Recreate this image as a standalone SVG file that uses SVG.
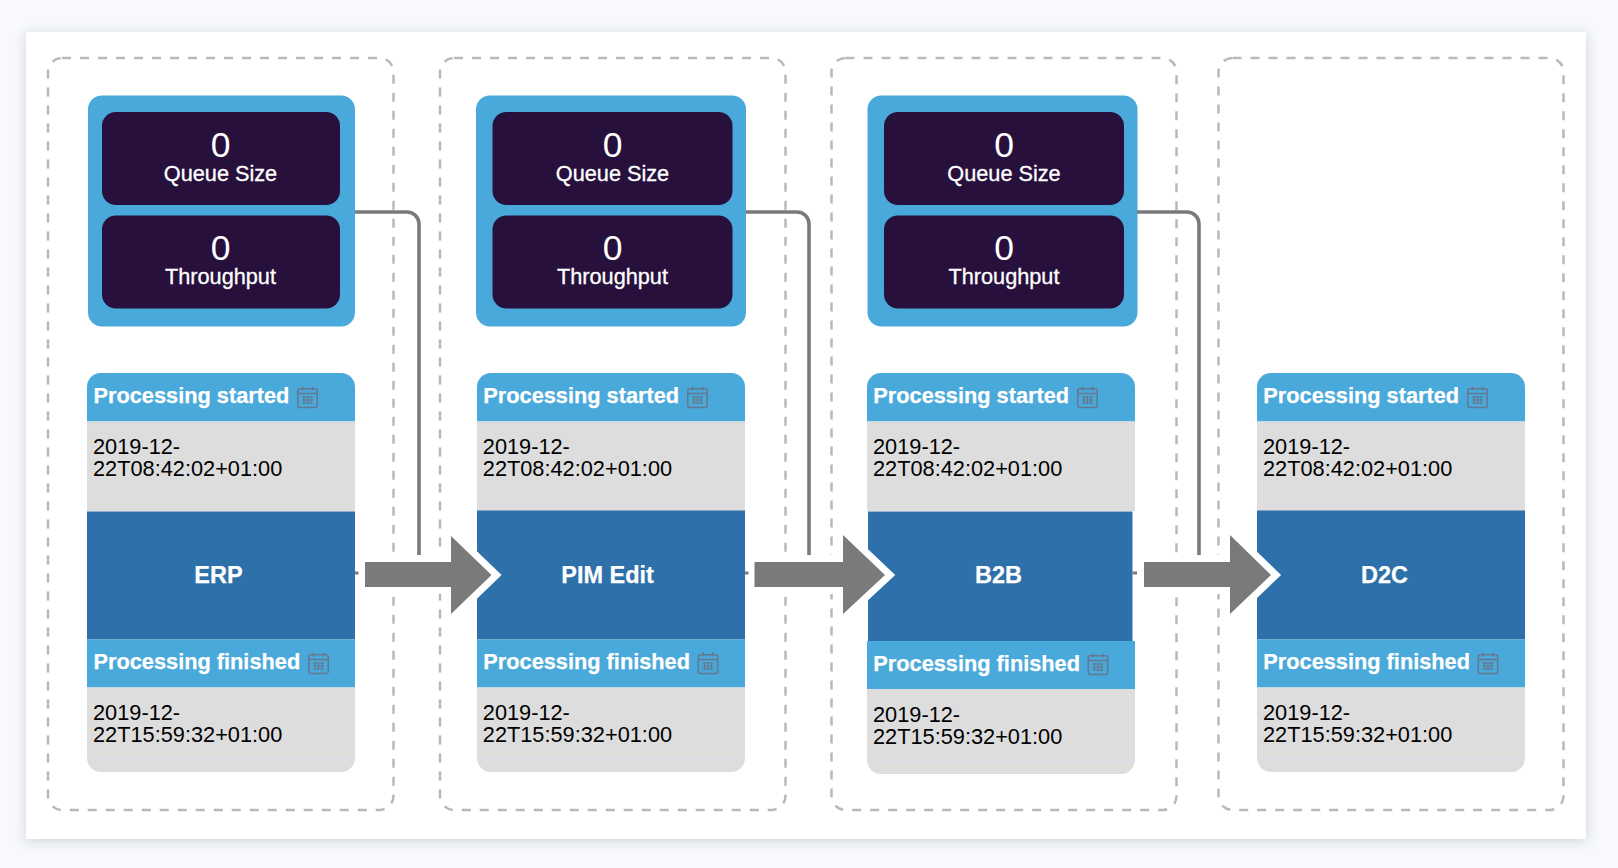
<svg xmlns="http://www.w3.org/2000/svg" width="1618" height="868" viewBox="0 0 1618 868">
<defs>
<filter id="sh" x="-3%" y="-5%" width="106%" height="110%"><feDropShadow dx="0" dy="2" stdDeviation="6" flood-color="#3a4060" flood-opacity="0.22"/></filter>
<g id="cal" fill="none" stroke="#66788f" stroke-width="1.5">
<rect x="0.8" y="2.8" width="19.4" height="18.6" rx="2"/>
<path d="M1 7.5H20M5.500 0.500V4.500M15.500 0.500V4.500"/>
<path d="M5 11H16M5 14H16M5 17H16M7 10V18M10.500 10V18M14 10V18" stroke-width="1.2"/>
</g>
</defs>
<style>
text{font-family:"Liberation Sans",Arial,sans-serif}
.frame{fill:none;stroke:#b9b9b9;stroke-width:2.5;stroke-dasharray:9 9}
.panel{fill:#49a9da}
.dark{fill:#28103d}
.num{fill:#fff;font-size:35.500px;text-anchor:middle}
.lab{fill:#fff;font-size:21.700px;text-anchor:middle;stroke:#fff;stroke-width:.3}
.hd{fill:#fff;font-size:21.750px;font-weight:700;stroke:#fff;stroke-width:.25}
.gray{fill:#dddddd}
.blue{fill:#2e70aa}
.dt{fill:#000;font-size:21.750px}
.name{fill:#fff;font-size:23.500px;font-weight:700;text-anchor:middle;stroke:#fff;stroke-width:.25}
.rule{stroke:#d7dde9;stroke-width:1;fill:none}
.wire{fill:none;stroke:#7a7a7a;stroke-width:3.6}
.arrow{fill:#7a7a7a;stroke:#fff;stroke-width:14;paint-order:stroke;stroke-linejoin:miter;stroke-miterlimit:3}
.stub{stroke:#7a7a7a;stroke-width:3}
</style>
<rect width="1618" height="868" fill="#f8f9fc"/>
<rect x="26" y="32" width="1560" height="807" fill="#fff" filter="url(#sh)"/>

<g id="node-erp">
<rect class="frame" x="48" y="58" width="345.500" height="752" rx="14"/>
<rect class="panel" x="88" y="95.500" width="267" height="231" rx="14"/>
<rect class="dark" x="102" y="112" width="238" height="93" rx="14"/>
<rect class="dark" x="102" y="215.500" width="238" height="93" rx="14"/>
<text class="num" x="220.500" y="157">0</text><text class="lab" x="220.500" y="181">Queue Size</text>
<text class="num" x="220.500" y="260">0</text><text class="lab" x="220.500" y="284">Throughput</text>
<path class="panel" d="M87 421.500V387a14 14 0 0 1 14-14H341a14 14 0 0 1 14 14V421.500Z"/>
<rect class="gray" x="87" y="421.500" width="268" height="90"/>
<path class="rule" d="M87 492.500H355"/>
<rect class="blue" x="87" y="511.500" width="268" height="128"/>
<rect class="panel" x="87" y="639.500" width="268" height="48"/>
<path class="gray" d="M87 687.500H355V758a14 14 0 0 1-14 14H101a14 14 0 0 1-14-14Z"/>
<path class="rule" d="M87 759.500H355"/>
<text class="hd" x="93.500" y="403">Processing started</text><use href="#cal" x="297" y="386"/>
<text class="dt" x="93" y="454">2019-12-</text><text class="dt" x="93" y="476">22T08:42:02+01:00</text>
<text class="name" x="218.500" y="582.500">ERP</text>
<text class="hd" x="93.500" y="669">Processing finished</text><use href="#cal" x="308" y="652"/>
<text class="dt" x="93" y="720">2019-12-</text><text class="dt" x="93" y="742">22T15:59:32+01:00</text>
</g>

<g id="node-pim-edit">
<rect class="frame" x="440" y="58" width="345.500" height="752" rx="14"/>
<rect class="panel" x="476" y="95.500" width="270" height="231" rx="14"/>
<rect class="dark" x="492.500" y="112" width="240" height="93" rx="14"/>
<rect class="dark" x="492.500" y="215.500" width="240" height="93" rx="14"/>
<text class="num" x="612.500" y="157">0</text><text class="lab" x="612.500" y="181">Queue Size</text>
<text class="num" x="612.500" y="260">0</text><text class="lab" x="612.500" y="284">Throughput</text>
<path class="panel" d="M477 421.500V387a14 14 0 0 1 14-14H731a14 14 0 0 1 14 14V421.500Z"/>
<rect class="gray" x="477" y="421.500" width="268" height="90"/>
<path class="rule" d="M477 492.500H745"/>
<rect class="blue" x="477" y="510.500" width="268" height="129"/>
<rect class="panel" x="477" y="639.500" width="268" height="48"/>
<path class="gray" d="M477 687.500H745V758a14 14 0 0 1-14 14H491a14 14 0 0 1-14-14Z"/>
<path class="rule" d="M477 759.500H745"/>
<text class="hd" x="483.300" y="403">Processing started</text><use href="#cal" x="687" y="386"/>
<text class="dt" x="482.800" y="454">2019-12-</text><text class="dt" x="482.800" y="476">22T08:42:02+01:00</text>
<text class="name" x="607.600" y="582.500">PIM Edit</text>
<text class="hd" x="483.300" y="669">Processing finished</text><use href="#cal" x="697.500" y="652"/>
<text class="dt" x="482.800" y="720">2019-12-</text><text class="dt" x="482.800" y="742">22T15:59:32+01:00</text>
</g>

<g id="node-b2b">
<rect class="frame" x="831.500" y="58" width="345" height="752" rx="14"/>
<rect class="panel" x="867.500" y="95.500" width="270" height="231" rx="14"/>
<rect class="dark" x="884" y="112" width="240" height="93" rx="14"/>
<rect class="dark" x="884" y="215.500" width="240" height="93" rx="14"/>
<text class="num" x="1004" y="157">0</text><text class="lab" x="1004" y="181">Queue Size</text>
<text class="num" x="1004" y="260">0</text><text class="lab" x="1004" y="284">Throughput</text>
<path class="panel" d="M867 421.500V387a14 14 0 0 1 14-14H1121a14 14 0 0 1 14 14V421.500Z"/>
<rect class="gray" x="867" y="421.500" width="268" height="89.500"/>
<path class="rule" d="M867 492.500H1135"/>
<rect class="blue" x="868" y="511.500" width="264.500" height="130"/>
<rect class="panel" x="867" y="641" width="268" height="48"/>
<path class="gray" d="M867 689H1135V760a14 14 0 0 1-14 14H881a14 14 0 0 1-14-14Z"/>
<path class="rule" d="M867 760.500H1135"/>
<text class="hd" x="873.300" y="403">Processing started</text><use href="#cal" x="1077" y="386"/>
<text class="dt" x="873" y="454">2019-12-</text><text class="dt" x="873" y="476">22T08:42:02+01:00</text>
<text class="name" x="998.500" y="582.500">B2B</text>
<text class="hd" x="873.300" y="670.500">Processing finished</text><use href="#cal" x="1087.500" y="653"/>
<text class="dt" x="873" y="722">2019-12-</text><text class="dt" x="873" y="744">22T15:59:32+01:00</text>
</g>

<g id="node-d2c">
<rect class="frame" x="1218.500" y="58" width="345" height="752" rx="14"/>
<path class="panel" d="M1257 421.500V387a14 14 0 0 1 14-14H1511a14 14 0 0 1 14 14V421.500Z"/>
<rect class="gray" x="1257" y="421.500" width="268" height="90"/>
<path class="rule" d="M1257 492.500H1525"/>
<rect class="blue" x="1257" y="510.500" width="268" height="129"/>
<rect class="panel" x="1257" y="639.500" width="268" height="48"/>
<path class="gray" d="M1257 687.500H1525V758a14 14 0 0 1-14 14H1271a14 14 0 0 1-14-14Z"/>
<path class="rule" d="M1257 759.500H1525"/>
<text class="hd" x="1263.300" y="403">Processing started</text><use href="#cal" x="1467" y="386"/>
<text class="dt" x="1263" y="454">2019-12-</text><text class="dt" x="1263" y="476">22T08:42:02+01:00</text>
<text class="name" x="1384.500" y="582.500">D2C</text>
<text class="hd" x="1263.300" y="669">Processing finished</text><use href="#cal" x="1477.500" y="652"/>
<text class="dt" x="1263" y="720">2019-12-</text><text class="dt" x="1263" y="742">22T15:59:32+01:00</text>
</g>

<g id="connectors">
<path class="wire" d="M355 212H407a12 12 0 0 1 12 12V560"/>
<path class="wire" d="M746 212H797a12 12 0 0 1 12 12V560"/>
<path class="wire" d="M1137 212H1187a12 12 0 0 1 12 12V560"/>
<path class="arrow" d="M365 562H451V536L491.500 575L451 614V587H365Z"/>
<path class="arrow" d="M754.500 562H843V535L885 575L843 614V587H754.500Z"/>
<path class="arrow" d="M1144 562H1230V535L1271 575L1230 614V587H1144Z"/>
<path class="stub" d="M355 573H358.500M745 573H748.500M1132.500 573H1137"/>
</g>
</svg>
